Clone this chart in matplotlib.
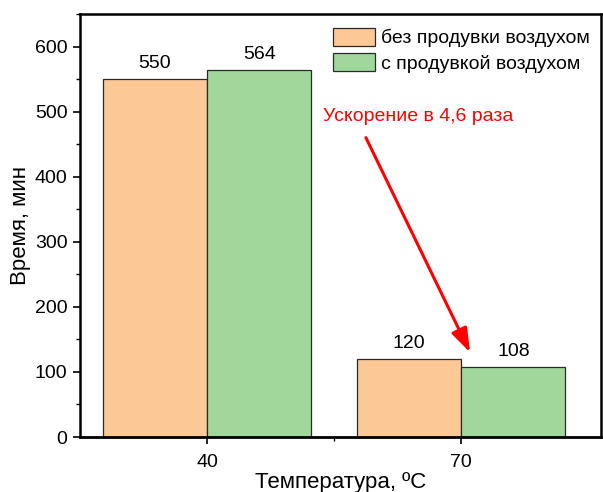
import matplotlib
matplotlib.use("Agg")
import matplotlib.pyplot as plt
from matplotlib.ticker import MultipleLocator, FixedLocator

# data
temps = ["40", "70"]
no_air = [550, 120]
with_air = [564, 108]
series_labels = ["без продувки воздухом", "с продувкой воздухом"]

plt.rcParams["font.family"] = ["Liberation Sans", "DejaVu Sans"]

fig = plt.figure(figsize=(6.03, 4.92), dpi=100)
ax = fig.add_axes([80 / 603, 55 / 492, 521 / 603, 423 / 492])

pos = [1, 2]
w = 0.41
b1 = ax.bar([p - w / 2 for p in pos], no_air, w, color="#fbc896", edgecolor="#2a2a2a",
            linewidth=0.9, label=series_labels[0])
b2 = ax.bar([p + w / 2 for p in pos], with_air, w, color="#a0d89c", edgecolor="#2a2a2a",
            linewidth=0.9, label=series_labels[1])
ax.bar_label(b1, padding=5, fontsize=14)
ax.bar_label(b2, padding=5, fontsize=14)

ax.set_xlim(0.5, 2.55)
ax.set_ylim(0, 650)
ax.set_xticks(pos)
ax.set_xticklabels(temps)
ax.xaxis.set_minor_locator(FixedLocator([1.5]))
ax.yaxis.set_major_locator(MultipleLocator(100))
ax.yaxis.set_minor_locator(MultipleLocator(50))
ax.tick_params(which="major", length=5, width=1.2, labelsize=14, direction="out")
ax.tick_params(which="minor", length=3, width=1.0, direction="out")
ax.tick_params(axis="x", pad=7)
ax.tick_params(axis="y", pad=4)
for s in ax.spines.values():
    s.set_linewidth(1.8)
ax.spines["bottom"].set_linewidth(2)

ax.set_xlabel("Температура, ºC", fontsize=16, labelpad=1)
ax.set_ylabel("Время, мин", fontsize=16, labelpad=3)

ax.legend(loc="upper right", bbox_to_anchor=(1.005, 1.0), frameon=False, fontsize=14,
          handlelength=2.2, handleheight=1.05, handletextpad=0.3, labelspacing=0.3,
          borderaxespad=0.3)

ax.annotate("", xy=(2.035, 130), xytext=(1.625, 460),
            arrowprops=dict(arrowstyle="-|>,head_length=1.45,head_width=0.5", color="red",
                            lw=2.2, shrinkA=0, shrinkB=0))
ax.text(1.83, 493, "Ускорение в 4,6 раза", color="red", fontsize=14, ha="center", va="center")

fig.savefig("out.png", dpi=100)
